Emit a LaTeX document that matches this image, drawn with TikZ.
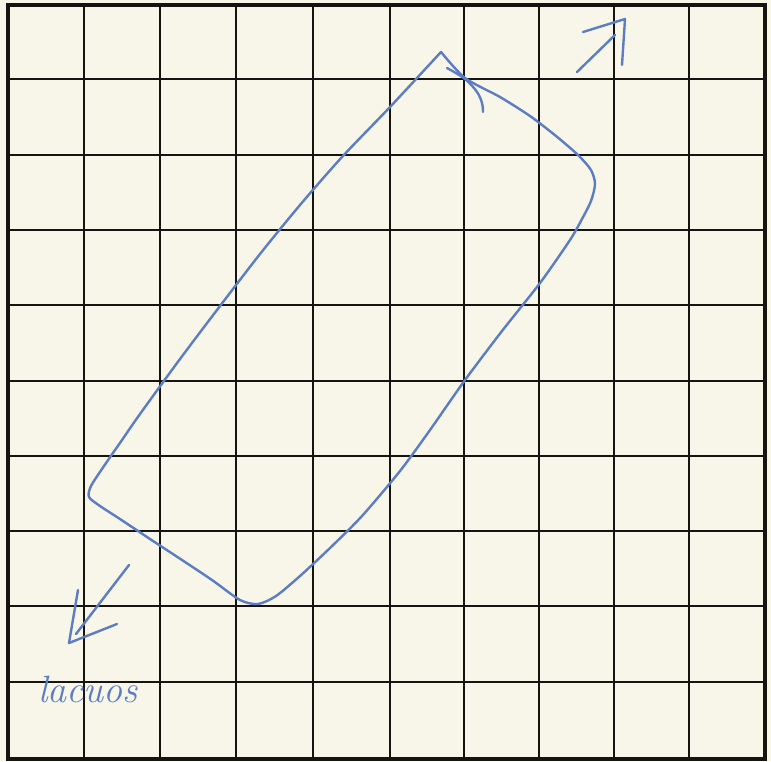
\documentclass[tikz,border=0pt]{standalone}
\definecolor{paper}{RGB}{248,246,232}
\definecolor{ink}{RGB}{92,124,196}
\definecolor{gridk}{RGB}{22,20,16}
\tikzset{
  gridline/.style={draw=gridk, line width=2.6pt},
  border/.style={draw=gridk, line width=3.6pt},
  pen/.style={draw=ink, line width=2.4pt, line cap=round, line join=round},
  handtext/.style={text=ink, font=\fontsize{38}{40}\selectfont\itshape, inner sep=0pt, anchor=base west}
}
\begin{document}
\begin{tikzpicture}[x=1pt,y=-1pt]
\fill[paper] (0,0) rectangle (771,761);
\useasboundingbox (0,0) rectangle (771,761);
% grid
\foreach \x in {84,160,236,313,390,464,539,614,689} {
  \draw[gridline] (\x,5) -- (\x,759);
}
\foreach \y in {79,155,230,305,381,456,531,606,682} {
  \draw[gridline] (8,\y) -- (765,\y);
}
\draw[border] (8,5) rectangle (765,759);
% rotated rounded loop
\draw[pen] plot[smooth, tension=0.45] coordinates {
  (441,52) (465,78) (500,97) (530,116) (556,136) (578,155) (591,170)
  (595,184) (591,201) (582,219) (570,240) (540,283) (502,331) (465,380)
  (430,430) (400,471) (362,516) (330,548) (300,576) (276,596) (258,604)
  (240,600) (212,580) (182,560) (150,539) (120,519) (100,506) (89,497)
  (91,486) (104,466) (122,440) (140,414) (180,359) (220,306) (260,254)
  (300,205) (342,157) (390,107) (441,52)};
\draw[pen] plot[smooth, tension=0.6] coordinates {
  (447,68) (465,79) (477,92) (482,103) (483,112)};
% top-right arrow
\coordinate (trt) at (577,72);
\coordinate (trh) at (615,35);
\coordinate (trl) at (583,32);
\coordinate (trp) at (625,19);
\coordinate (trr) at (622,65);
\draw[pen] (trt) -- (trh);
\draw[pen] (trl) -- (trp) -- (trr);
% bottom-left arrow
\coordinate (blt) at (129,565);
\coordinate (blh) at (76,634);
\coordinate (bll) at (78,590);
\coordinate (blp) at (69,643);
\coordinate (blr) at (117,624);
\draw[pen] (blt) -- (blh);
\draw[pen] (bll) -- (blp) -- (blr);
% handwritten label
\node[handtext] (lab) at (38,702) {lacuos};
\end{tikzpicture}
\end{document}
